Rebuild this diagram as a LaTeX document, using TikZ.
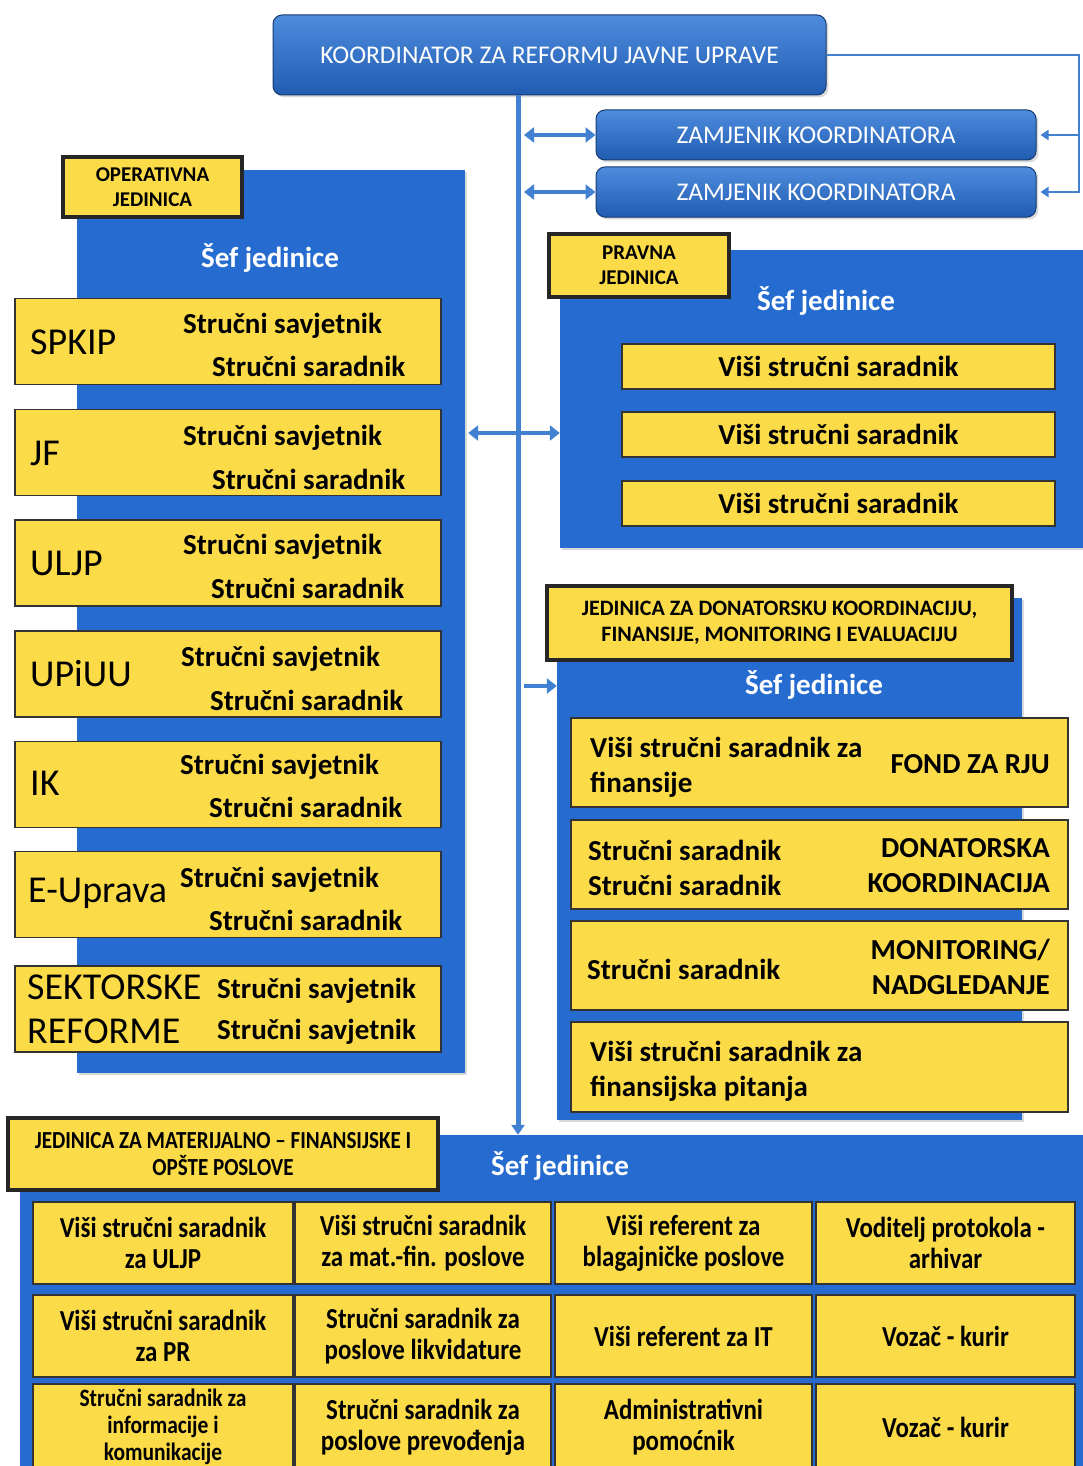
\documentclass[tikz,border=0pt]{standalone}
\usepackage{fontspec}
\setmainfont{Carlito}
\newfontfamily\narrowfont{Carlito}[FakeStretch=0.86]
\usetikzlibrary{arrows.meta,shadows}
\definecolor{panelblue}{RGB}{38,108,208}
\definecolor{topblue}{RGB}{78,140,222}
\definecolor{linkblue}{RGB}{66,128,210}
\definecolor{boxyellow}{RGB}{252,219,72}
\tikzset{
  headbox/.style={rounded corners=9pt, top color=topblue, bottom color=panelblue!85!black,
    draw=panelblue!55!black, line width=1pt, text=white, inner sep=0pt,
    font=\fontsize{25.5}{28}\selectfont, drop shadow={opacity=0.3}},
  panel/.style={fill=panelblue, inner sep=0pt, drop shadow={opacity=0.3}},
  unitlabel/.style={fill=boxyellow, draw=black!85, line width=3.5pt, align=center, inner sep=0pt,
    font=\bfseries\fontsize{21}{25}\selectfont, drop shadow={opacity=0.35}},
  post/.style={fill=boxyellow, draw=black!80, line width=1.8pt, inner sep=0pt,
    font=\bfseries\fontsize{29}{35}\selectfont},
  cell/.style={post, align=center, font=\narrowfont\bfseries\fontsize{29}{31}\selectfont},
  posttext/.style={inner sep=0pt, font=\bfseries\fontsize{29}{35}\selectfont},
  unitname/.style={inner sep=0pt, anchor=west, font=\fontsize{38}{44}\selectfont},
  chief/.style={text=white, font=\bfseries\fontsize{29}{35}\selectfont},
  mainlink/.style={draw=linkblue, line width=5pt},
  linkarrow/.style={draw=linkblue, line width=4.5pt, arrows={<[scale=1]->}, >={Triangle[width=15pt,length=10pt]}},
  buslink/.style={draw=linkblue, line width=2.5pt, >={Triangle[width=10pt,length=8pt]}}
}
\begin{document}
\begin{tikzpicture}[x=1pt, y=-1pt]
\useasboundingbox (0,0) rectangle (1083,1466);

% koordinator i zamjenici
\node[headbox, minimum width=553pt, minimum height=80pt] (koord) at (549.5,55) {KOORDINATOR ZA REFORMU JAVNE UPRAVE};
\node[headbox, minimum width=440pt, minimum height=50pt] (zam1) at (816,135) {ZAMJENIK KOORDINATORA};
\node[headbox, minimum width=440pt, minimum height=50pt] (zam2) at (816,192) {ZAMJENIK KOORDINATORA};

% operativna jedinica
\node[panel, minimum width=388pt, minimum height=903pt] (oppanel) at (271,621.5) {};
\node[unitlabel, minimum width=179pt, minimum height=60pt] (oplabel) at (152.5,187) {OPERATIVNA\\JEDINICA};
\node[chief] (opsef) at (270,258) {Šef jedinice};
\node[post, minimum width=426pt, minimum height=86pt] (spkip) at (228,341.5) {};
\node[post, minimum width=426pt, minimum height=86pt] (jf) at (228,452.5) {};
\node[post, minimum width=426pt, minimum height=86pt] (uljp) at (228,563) {};
\node[post, minimum width=426pt, minimum height=86pt] (upiuu) at (228,674) {};
\node[post, minimum width=426pt, minimum height=86pt] (ik) at (228,784.5) {};
\node[post, minimum width=426pt, minimum height=86pt] (euprava) at (228,894.5) {};
\node[post, minimum width=426pt, minimum height=86pt] (sektor) at (228,1009) {};
\node[unitname] at (30,342) {SPKIP};
\node[posttext, anchor=west] at (183,326) {Stručni savjetnik};
\node[posttext, anchor=west] at (212,366) {Stručni saradnik};
\node[unitname] at (30,453) {JF};
\node[posttext, anchor=west] at (183,438) {Stručni savjetnik};
\node[posttext, anchor=west] at (212,479) {Stručni saradnik};
\node[unitname] at (30,563) {ULJP};
\node[posttext, anchor=west] at (183,547) {Stručni savjetnik};
\node[posttext, anchor=west] at (211,588) {Stručni saradnik};
\node[unitname] at (30,674) {UPiUU};
\node[posttext, anchor=west] at (181,659) {Stručni savjetnik};
\node[posttext, anchor=west] at (210,700) {Stručni saradnik};
\node[unitname] at (30,783) {IK};
\node[posttext, anchor=west] at (180,767) {Stručni savjetnik};
\node[posttext, anchor=west] at (209,807) {Stručni saradnik};
\node[unitname] at (28,893) {E-Uprava};
\node[posttext, anchor=west] at (180,880) {Stručni savjetnik};
\node[posttext, anchor=west] at (209,920) {Stručni saradnik};
\node[unitname] at (27,987) {SEKTORSKE};
\node[unitname] at (27,1031) {REFORME};
\node[posttext, anchor=west] at (217,991) {Stručni savjetnik};
\node[posttext, anchor=west] at (217,1032) {Stručni savjetnik};

% pravna jedinica
\node[panel, minimum width=523pt, minimum height=298pt] (prpanel) at (821.5,399) {};
\node[unitlabel, minimum width=180pt, minimum height=63pt] (prlabel) at (639,265.5) {PRAVNA\\JEDINICA};
\node[chief] (prsef) at (826,301) {Šef jedinice};
\node[post, minimum width=433pt, minimum height=45pt] (pr1) at (838.5,366.5) {Viši stručni saradnik};
\node[post, minimum width=433pt, minimum height=45pt] (pr2) at (838.5,434.5) {Viši stručni saradnik};
\node[post, minimum width=433pt, minimum height=45pt] (pr3) at (838.5,503.5) {Viši stručni saradnik};

% jedinica za donatorsku koordinaciju
\node[panel, minimum width=465pt, minimum height=522pt] (donpanel) at (789.5,859) {};
\node[unitlabel, minimum width=465pt, minimum height=74pt, font=\bfseries\fontsize{22}{26}\selectfont] (donlabel) at (779.5,623) {JEDINICA ZA DONATORSKU KOORDINACIJU,\\FINANSIJE, MONITORING I EVALUACIJU};
\node[chief] (donsef) at (814,685) {Šef jedinice};
\node[post, minimum width=497pt, minimum height=89pt] (fond) at (819.5,762.5) {};
\node[post, minimum width=497pt, minimum height=89pt] (donkoord) at (819.5,864.5) {};
\node[post, minimum width=497pt, minimum height=89pt] (monit) at (819.5,965.5) {};
\node[post, minimum width=497pt, minimum height=90pt] (finpit) at (819.5,1067) {};
\node[posttext, anchor=west, align=left] at (590,767) {Viši stručni saradnik za\\finansije};
\node[posttext, anchor=east] at (1050,764) {FOND ZA RJU};
\node[posttext, anchor=west, align=left] at (588,868) {Stručni saradnik\\Stručni saradnik};
\node[posttext, anchor=east, align=right] at (1050,866) {DONATORSKA\\KOORDINACIJA};
\node[posttext, anchor=west] at (587,969) {Stručni saradnik};
\node[posttext, anchor=east, align=right] at (1050,967) {MONITORING/\\NADGLEDANJE};
\node[posttext, anchor=west, align=left] at (590,1071) {Viši stručni saradnik za\\finansijska pitanja};

% jedinica za materijalno-finansijske i opste poslove
\node[panel, minimum width=1080pt, minimum height=345pt] (matpanel) at (560,1307.5) {};
\node[unitlabel, minimum width=430pt, minimum height=72pt, font=\narrowfont\bfseries\fontsize{24.5}{27}\selectfont] (matlabel) at (223,1154) {JEDINICA ZA MATERIJALNO – FINANSIJSKE I\\OPŠTE POSLOVE};
\node[chief] (matsef) at (560,1166) {Šef jedinice};
\node[cell, minimum width=260pt, minimum height=82pt] (c11) at (163,1243) {Viši stručni saradnik\\za ULJP};
\node[cell, minimum width=256pt, minimum height=82pt] (c12) at (423,1243) {Viši stručni saradnik\\za mat.-fin. poslove};
\node[cell, minimum width=257pt, minimum height=82pt] (c13) at (683.5,1243) {Viši referent za\\blagajničke poslove};
\node[cell, minimum width=259pt, minimum height=82pt] (c14) at (945.5,1243) {Voditelj protokola -\\arhivar};
\node[cell, minimum width=260pt, minimum height=82pt] (c21) at (163,1336) {Viši stručni saradnik\\za PR};
\node[cell, minimum width=256pt, minimum height=82pt] (c22) at (423,1336) {Stručni saradnik za\\poslove likvidature};
\node[cell, minimum width=257pt, minimum height=82pt] (c23) at (683.5,1336) {Viši referent za IT};
\node[cell, minimum width=259pt, minimum height=82pt] (c24) at (945.5,1336) {Vozač - kurir};
\node[cell, minimum width=260pt, minimum height=86pt, font=\narrowfont\bfseries\fontsize{25}{27}\selectfont] (c31) at (163,1427) {Stručni saradnik za\\informacije i\\komunikacije};
\node[cell, minimum width=256pt, minimum height=86pt] (c32) at (423,1427) {Stručni saradnik za\\poslove prevođenja};
\node[cell, minimum width=257pt, minimum height=86pt] (c33) at (683.5,1427) {Administrativni\\pomoćnik};
\node[cell, minimum width=259pt, minimum height=86pt] (c34) at (945.5,1427) {Vozač - kurir};

% veze
\coordinate (spine) at (518,95);
\coordinate (spineR) at (524,95);
\coordinate (oplink) at (0,433);
\coordinate (donlink) at (0,686);
\coordinate (rbus) at (1079,57);
\draw[mainlink, -{Triangle[width=13pt,length=10pt]}] (koord.south -| spine) -- (spine |- matpanel.north);
\draw[linkarrow] (spineR |- zam1.west) -- (zam1.west);
\draw[linkarrow] (spineR |- zam2.west) -- (zam2.west);
\draw[linkarrow] ([xshift=3pt]oppanel.east |- oplink) -- (prpanel.west |- oplink);
\draw[draw=linkblue, line width=4.5pt, -{Triangle[width=15pt,length=10pt]}] (spineR |- donlink) -- (donpanel.west |- donlink);
\draw[buslink, ->] (koord.east) -| (rbus |- zam2.east) -- ([xshift=4pt]zam2.east);
\draw[buslink, ->] (rbus |- zam1.east) -- ([xshift=4pt]zam1.east);
\end{tikzpicture}
\end{document}
